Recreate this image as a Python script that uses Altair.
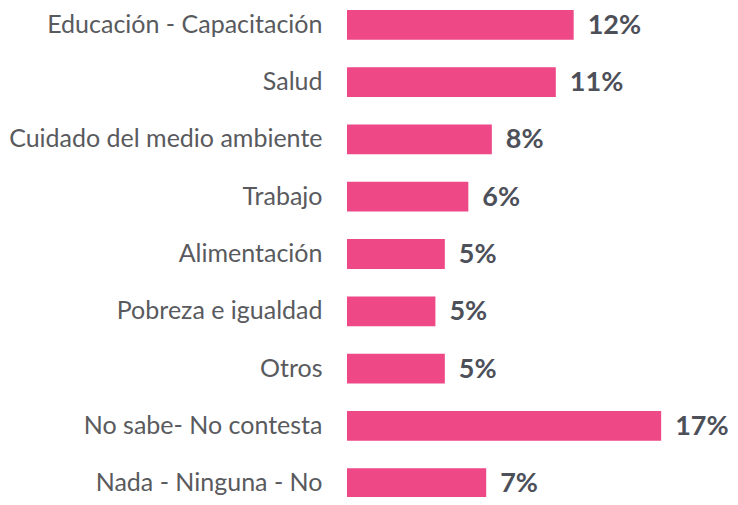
import altair as alt
import pandas as pd

categories = [
    "Educación - Capacitación",
    "Salud",
    "Cuidado del medio ambiente",
    "Trabajo",
    "Alimentación",
    "Pobreza e igualdad",
    "Otros",
    "No sabe- No contesta",
    "Nada - Ninguna - No",
]
values = [12.05, 11.1, 7.7, 6.45, 5.2, 4.7, 5.2, 16.7, 7.4]
labels = ["12%", "11%", "8%", "6%", "5%", "5%", "5%", "17%", "7%"]

df = pd.DataFrame({"cat": categories, "val": values, "lab": labels})

y = alt.Y("cat:N", sort=categories, title=None,
          scale=alt.Scale(paddingInner=0.48, paddingOuter=0, range=[2, 490]),
          axis=alt.Axis(domain=False, ticks=False, grid=False, labelPadding=25,
                        labelLimit=0, labelFontSize=25, labelFont="Lato",
                        labelColor="#595A5E"))
x = alt.X("val:Q", scale=alt.Scale(domain=[0, 20.2], nice=False), axis=None)

bars = alt.Chart(df).mark_bar(color="#EE4887").encode(x=x, y=y)
text = alt.Chart(df).mark_text(align="left", baseline="middle", dx=14, dy=1, font="Lato",
                               fontSize=27, fontWeight="bold", color="#4D5059").encode(
    x=x, y=y, text="lab:N")

chart = (bars + text).properties(
    width=380, height=489,
    autosize=alt.AutoSizeParams(type="none"),
    padding={"left": 339, "top": 0, "right": 3, "bottom": 0},
).configure_view(stroke=None)

chart.save("out.html", embed_options={"renderer": "svg", "actions": False})
